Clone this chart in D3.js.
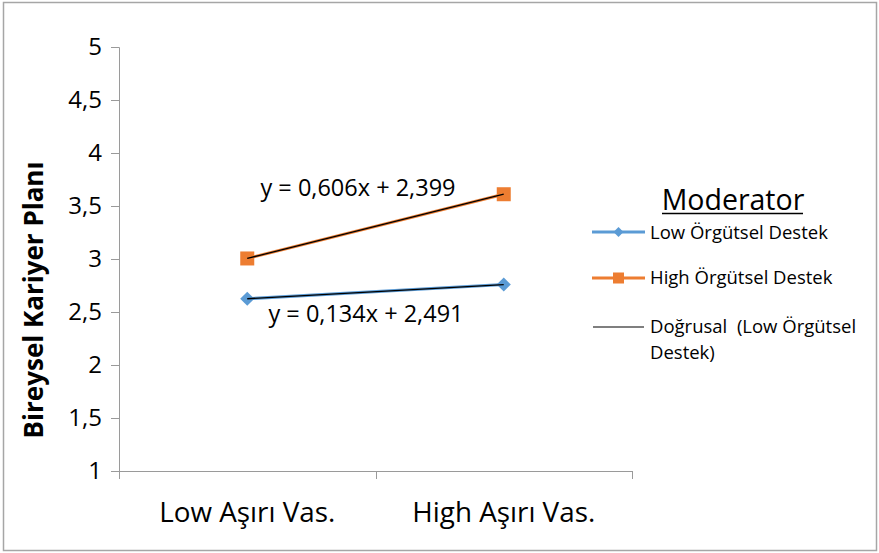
<!DOCTYPE html>
<html>
<head>
<meta charset="utf-8">
<script src="https://cdn.jsdelivr.net/npm/d3@7"></script>
<style>
  body { margin: 0; background: #fff; }
  text { font-family: "Open Sans", "Noto Sans", sans-serif; }
</style>
</head>
<body>
<div id="chart"></div>
<script>
// data
const categories = ["Low Aşırı Vas.", "High Aşırı Vas."];
const lowDestek = [2.625, 2.759];
const highDestek = [3.005, 3.611];
const yTicks = [1, 1.5, 2, 2.5, 3, 3.5, 4, 4.5, 5];
const trendLow = { slope: 0.134, intercept: 2.491, label: "y = 0,134x + 2,491" };
const trendHigh = { slope: 0.606, intercept: 2.399, label: "y = 0,606x + 2,399" };
const legendNames = ["Low Örgütsel Destek", "High Örgütsel Destek", "Doğrusal  (Low Örgütsel", "Destek)"];

const svg_width = 879, svg_height = 553;
const margin = { top: 47, left: 119, right: 247, bottom: 82 };
const width = svg_width - margin.left - margin.right;
const height = svg_height - margin.top - margin.bottom;

const svg = d3.select("#chart").append("svg")
  .attr("width", svg_width)
  .attr("height", svg_height);

// outer frame
svg.append("rect")
  .attr("x", 3.5).attr("y", 2.5)
  .attr("width", 873).attr("height", 548)
  .attr("fill", "none")
  .attr("stroke", "#a6a6a6")
  .attr("stroke-width", 1.5);

const g = svg.append("g")
  .attr("transform", `translate(${margin.left}, ${margin.top})`);

const x = d3.scaleBand().domain(categories).range([0, width]);
const y = d3.scaleLinear().domain([1, 5]).range([height, 0]);

// y axis
const yAxis = g.append("g")
  .call(d3.axisLeft(y).tickValues(yTicks).tickSize(8).tickPadding(9)
    .tickFormat(d => String(d).replace(".", ",")));
yAxis.select(".domain").attr("stroke", "#9a9a9a").attr("d", `M-8,0.5H0.5V${height + 0.5}`);
yAxis.selectAll(".tick line").attr("stroke", "#9a9a9a");
yAxis.selectAll(".tick text").attr("font-size", "24px").attr("fill", "#000")
  .attr("font-family", "'Open Sans', sans-serif");

// x axis
const xAxis = g.append("g")
  .attr("transform", `translate(0, ${height})`)
  .call(d3.axisBottom(x).tickSize(0).tickPadding(31));
xAxis.select(".domain").attr("stroke", "#9a9a9a").attr("d", `M-8,0.5H${width + 0.5}`);
xAxis.selectAll(".tick text").attr("font-size", "27.8px").attr("fill", "#000")
  .attr("font-family", "'Open Sans', sans-serif");
// category dividers
const bounds = [0, width / 2, width];
g.selectAll(".xdiv").data(bounds).enter().append("line")
  .attr("x1", d => Math.round(d) + 0.5).attr("x2", d => Math.round(d) + 0.5)
  .attr("y1", height).attr("y2", height + 8)
  .attr("stroke", "#9a9a9a");

const cx = i => x(categories[i]) + x.bandwidth() / 2;
const line = d3.line().x((d, i) => cx(i)).y(d => y(d));

// series lines
g.append("path").datum(lowDestek)
  .attr("d", line).attr("fill", "none")
  .attr("stroke", "#5b9bd5").attr("stroke-width", 3);
g.append("path").datum(highDestek)
  .attr("d", line).attr("fill", "none")
  .attr("stroke", "#ed7d31").attr("stroke-width", 3);

// markers
g.selectAll(".diamond").data(lowDestek).enter().append("path")
  .attr("transform", (d, i) => `translate(${cx(i)}, ${y(d)}) rotate(45)`)
  .attr("d", "M-5,-5H5V5H-5Z")
  .attr("fill", "#5b9bd5");
g.selectAll(".square").data(highDestek).enter().append("rect")
  .attr("x", (d, i) => cx(i) - 7).attr("y", d => y(d) - 7)
  .attr("width", 14).attr("height", 14)
  .attr("fill", "#ed7d31");

// linear trendlines
[trendLow, trendHigh].forEach(t => {
  const pts = [1, 2].map(v => t.slope * v + t.intercept);
  g.append("path").datum(pts)
    .attr("d", line).attr("fill", "none")
    .attr("stroke", "#000").attr("stroke-width", 1.3);
});

// equation labels
g.append("text")
  .attr("x", 358 - margin.left).attr("y", 196 - margin.top)
  .attr("text-anchor", "middle").attr("font-size", "23.5px")
  .text(trendHigh.label);
g.append("text")
  .attr("x", 366 - margin.left).attr("y", 322 - margin.top)
  .attr("text-anchor", "middle").attr("font-size", "23.5px")
  .text(trendLow.label);

// y axis title
svg.append("text")
  .attr("transform", "translate(43, 300) rotate(-90)")
  .attr("text-anchor", "middle")
  .attr("font-size", "26px").attr("font-weight", "bold")
  .text("Bireysel Kariyer Planı");

// legend
const lg = svg.append("g");
lg.append("text")
  .attr("x", 733).attr("y", 210)
  .attr("text-anchor", "middle").attr("font-size", "28.5px")
  .text("Moderator");
lg.append("line")
  .attr("x1", 662).attr("x2", 803).attr("y1", 213.5).attr("y2", 213.5)
  .attr("stroke", "#000").attr("stroke-width", 1.5);

const rowY = [232, 278, 327];
lg.append("line").attr("x1", 592).attr("x2", 645).attr("y1", rowY[0]).attr("y2", rowY[0])
  .attr("stroke", "#5b9bd5").attr("stroke-width", 3);
lg.append("path").attr("transform", `translate(618.5, ${rowY[0]}) rotate(45)`)
  .attr("d", "M-3.5,-3.5H3.5V3.5H-3.5Z").attr("fill", "#5b9bd5");
lg.append("line").attr("x1", 592).attr("x2", 645).attr("y1", rowY[1]).attr("y2", rowY[1])
  .attr("stroke", "#ed7d31").attr("stroke-width", 3);
lg.append("rect").attr("x", 613).attr("y", rowY[1] - 5.5).attr("width", 11).attr("height", 11)
  .attr("fill", "#ed7d31");
lg.append("line").attr("x1", 593).attr("x2", 644).attr("y1", rowY[2]).attr("y2", rowY[2])
  .attr("stroke", "#000").attr("stroke-width", 1.2);

const labelY = [238.5, 284, 333, 359];
lg.selectAll(".lgtext").data(legendNames).enter().append("text")
  .attr("x", 650).attr("y", (d, i) => labelY[i])
  .attr("font-size", "18.5px")
  .attr("xml:space", "preserve")
  .text(d => d);
</script>
</body>
</html>
